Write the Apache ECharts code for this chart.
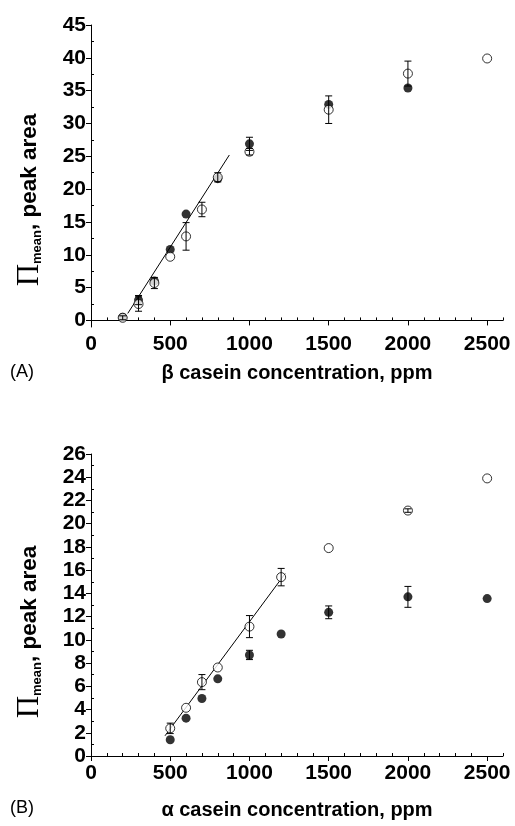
<!DOCTYPE html>
<html><head><meta charset="utf-8">
<script src="https://cdn.jsdelivr.net/npm/echarts@6/dist/echarts.min.js"></script>
<style>html,body{margin:0;padding:0;background:#fff}#c{width:515px;height:826px}</style>
</head><body><div id="c"></div>
<script>
// ---- Panel A: beta casein ----
const xA = [200, 300, 400, 500, 600, 700, 800, 1000, 1500, 2000, 2500];
const filledA = [0.5, 3.1, 6.0, 10.8, 16.2, null, 21.6, 26.9, 32.9, 35.4, null];
const filledErrA = [0, 0.7, 0, 0, 0, 0, 0, 1.0, 0, 0, 0];
const openA = [0.4, 2.5, 5.7, 9.7, 12.8, 16.9, 21.8, 25.7, 32.1, 37.6, 39.9];
const openErrA = [0.3, 1.1, 0.85, 0, 2.1, 1.1, 0.7, 0.5, 2.1, 1.9, 0];
const fitAx = [232, 873];
const fitAy = [1.07, 25.2];
const yTicksA = [0, 5, 10, 15, 20, 25, 30, 35, 40, 45];
const yMinorA = [2.5, 7.5, 12.5, 17.5, 22.5, 27.5, 32.5, 37.5, 42.5];

// ---- Panel B: alpha casein ----
const xB = [500, 600, 700, 800, 1000, 1200, 1500, 2000, 2500];
const openB = [2.38, 4.15, 6.36, 7.62, 11.14, 15.4, 17.9, 21.13, 23.9];
const openErrB = [0.45, 0, 0.65, 0, 0.95, 0.75, 0, 0.15, 0];
const filledB = [1.4, 3.26, 4.95, 6.64, 8.7, 10.5, 12.37, 13.7, 13.55];
const filledErrB = [0, 0, 0, 0, 0.4, 0, 0.55, 0.9, 0];
const fitBx = [467, 1225];
const fitBy = [1.74, 15.7];
const yTicksB = [0, 2, 4, 6, 8, 10, 12, 14, 16, 18, 20, 22, 24, 26];
const yMinorB = [1, 3, 5, 7, 9, 11, 13, 15, 17, 19, 21, 23, 25];

const xTicks = [0, 500, 1000, 1500, 2000, 2500];
const xMinor = [100,200,300,400,600,700,800,900,1100,1200,1300,1400,1600,1700,1800,1900,2100,2200,2300,2400,2600];

const xNameA = 'β casein concentration, ppm';
const xNameB = 'α casein concentration, ppm';

const FONT = '"Liberation Sans", Arial, sans-serif';

function zip(xs, ys) { return xs.map((x, i) => [x, ys[i]]).filter(d => d[1] !== null); }
function errData(xs, ys, es) {
  const out = [];
  xs.forEach((x, i) => { if (ys[i] !== null && es[i] > 0) out.push([x, ys[i] - es[i], ys[i] + es[i]]); });
  return out;
}
function errRender(params, api) {
  const x = api.value(0);
  const lo = api.coord([x, api.value(1)]);
  const hi = api.coord([x, api.value(2)]);
  const w = 3.5;
  const st = { stroke: '#000', lineWidth: 1 };
  return { type: 'group', children: [
    { type: 'line', shape: { x1: lo[0], y1: lo[1], x2: hi[0], y2: hi[1] }, style: st },
    { type: 'line', shape: { x1: lo[0] - w, y1: lo[1], x2: lo[0] + w, y2: lo[1] }, style: st },
    { type: 'line', shape: { x1: hi[0] - w, y1: hi[1], x2: hi[0] + w, y2: hi[1] }, style: st }
  ]};
}

function mainX(gi, name, gap) {
  return {
    type: 'value', gridIndex: gi, min: 0, max: 2600,
    name: name, nameLocation: 'middle', nameGap: gap,
    nameTextStyle: { fontFamily: FONT, fontWeight: 'bold', fontSize: 20, color: '#000' },
    axisLine: { show: true, lineStyle: { color: '#000', width: 1 } },
    axisTick: { show: true, length: 5, customValues: xTicks, lineStyle: { color: '#000' } },
    axisLabel: { customValues: xTicks, formatter: v => String(v), fontFamily: FONT, fontWeight: 'bold', fontSize: 21, color: '#000', margin: 7 },
    splitLine: { show: false }
  };
}
function minorX(gi) {
  return {
    type: 'value', gridIndex: gi, min: 0, max: 2600,
    axisLine: { show: false },
    axisTick: { show: true, length: 3, customValues: xMinor, lineStyle: { color: '#000' } },
    axisLabel: { show: false }, splitLine: { show: false }
  };
}
function mainY(gi, min, max, ticks) {
  return {
    type: 'value', gridIndex: gi, min: min, max: max,
    axisLine: { show: true, lineStyle: { color: '#000', width: 1 } },
    axisTick: { show: true, length: 5, customValues: ticks, lineStyle: { color: '#000' } },
    axisLabel: { customValues: ticks, fontFamily: FONT, fontWeight: 'bold', fontSize: 21, color: '#000', margin: 5 },
    splitLine: { show: false }
  };
}
function minorY(gi, min, max, ticks) {
  return {
    type: 'value', gridIndex: gi, min: min, max: max,
    axisLine: { show: false },
    axisTick: { show: true, length: 3, customValues: ticks, lineStyle: { color: '#000' } },
    axisLabel: { show: false }, splitLine: { show: false }
  };
}
function filledS(xi, yi, data) {
  return { type: 'scatter', xAxisIndex: xi, yAxisIndex: yi, data: data, symbol: 'circle', symbolSize: 9,
    itemStyle: { color: '#000' }, z: 3, silent: true };
}
function openS(xi, yi, data) {
  return { type: 'scatter', xAxisIndex: xi, yAxisIndex: yi, data: data, symbol: 'circle', symbolSize: 9,
    itemStyle: { color: '#fff', borderColor: '#000', borderWidth: 1 }, z: 4, silent: true };
}
function errS(xi, yi, data) {
  return { type: 'custom', xAxisIndex: xi, yAxisIndex: yi, data: data, renderItem: errRender, z: 5, silent: true };
}
function fitS(xi, yi, data) {
  return { type: 'line', xAxisIndex: xi, yAxisIndex: yi, data: data, symbol: 'none',
    lineStyle: { color: '#000', width: 1 }, z: 2, silent: true };
}

function yName(x, y) {
  return {
    type: 'text', x: x, y: y, rotation: Math.PI / 2,
    style: {
      text: '{p|Π}{s|mean}{t|, peak area}',
      align: 'center', verticalAlign: 'middle',
      rich: {
        p: { fontFamily: '"Liberation Serif", "Times New Roman", serif', fontSize: 31, fill: '#000', color: '#000' },
        s: { fontFamily: FONT, fontWeight: 'bold', fontSize: 13, color: '#000', fill: '#000', padding: [14, 0, 0, 0] },
        t: { fontFamily: FONT, fontWeight: 'bold', fontSize: 22.5, color: '#000', fill: '#000' }
      }
    }
  };
}

const option = {
  backgroundColor: '#fff',
  animation: false,
  grid: [
    { left: 91, top: 25, width: 412, height: 302 },
    { left: 91, top: 454, width: 412, height: 302 }
  ],
  xAxis: [mainX(0, xNameA, 36), minorX(0), mainX(1, xNameB, 44), minorX(1)],
  yAxis: [mainY(0, -1, 45, yTicksA), minorY(0, -1, 45, yMinorA), mainY(1, 0, 26, yTicksB), minorY(1, 0, 26, yMinorB)],
  series: [
    fitS(0, 0, zip(fitAx, fitAy)),
    filledS(0, 0, zip(xA, filledA)),
    openS(0, 0, zip(xA, openA)),
    errS(0, 0, errData(xA, filledA, filledErrA)),
    errS(0, 0, errData(xA, openA, openErrA)),
    fitS(2, 2, zip(fitBx, fitBy)),
    filledS(2, 2, zip(xB, filledB)),
    openS(2, 2, zip(xB, openB)),
    errS(2, 2, errData(xB, filledB, filledErrB)),
    errS(2, 2, errData(xB, openB, openErrB))
  ],
  graphic: [
    yName(30, 200),
    yName(30, 632),
    { type: 'text', x: 10, y: 372, style: { text: '(A)', fontFamily: FONT, fontSize: 18, fill: '#000', verticalAlign: 'middle' } },
    { type: 'text', x: 10, y: 808, style: { text: '(B)', fontFamily: FONT, fontSize: 18, fill: '#000', verticalAlign: 'middle' } }
  ]
};
const chart = echarts.init(document.getElementById('c'), null, { renderer: 'canvas' });
chart.setOption(option);
</script></body></html>
